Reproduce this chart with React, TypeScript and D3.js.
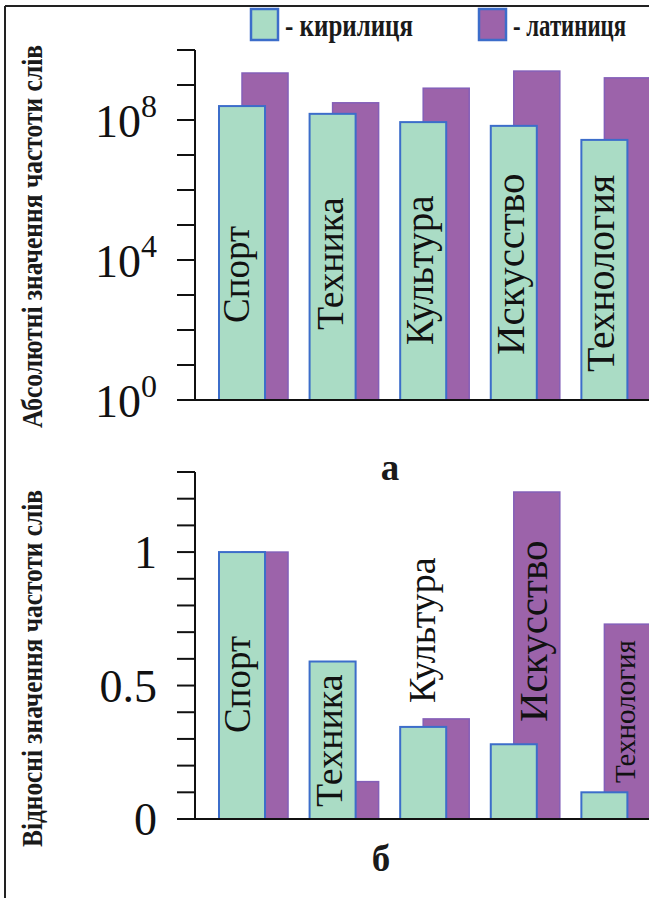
import React, { useLayoutEffect, useRef, useState } from "react";
import * as d3 from "d3";

const categories = ["Спорт", "Техника", "Культура", "Искусство", "Технология"];
// absolute word frequencies (panel a, log scale)
const absCyr = [2.5e8, 1.5e8, 8.7e7, 6.8e7, 2.7e7];
const absLat = [2.2e9, 3.1e8, 8.1e8, 2.5e9, 1.6e9];
// relative word frequencies (panel б)
const relCyr = [1.0, 0.59, 0.345, 0.28, 0.1];
const relLat = [1.0, 0.14, 0.375, 1.225, 0.73];

const absTickExps = [0, 1, 2, 3, 4, 5, 6, 7, 8, 9, 10];
const absLabelExps = [0, 4, 8];
const relTicks = [0, 0.1, 0.2, 0.3, 0.4, 0.5, 0.6, 0.7, 0.8, 0.9, 1.0, 1.1, 1.2, 1.3];
const relLabels = [
  { v: 0, t: "0" },
  { v: 0.5, t: "0.5" },
  { v: 1, t: "1" },
];
const legendItems = ["- кирилиця", "- латиниця"];
const titleA = "Абсолютні значення частоти слів";
const titleB = "Відносні значення частоти слів";

// label placement: series the label sits in, offset of baseline from bar centre, gap above axis, font size
const labelsA = [
  { s: "c", dx: 7, gap: 77, fs: 37 },
  { s: "c", dx: 10, gap: 70, fs: 38 },
  { s: "c", dx: 10, gap: 55, fs: 39 },
  { s: "c", dx: 10, gap: 45, fs: 41 },
  { s: "c", dx: 10, gap: 28, fs: 40 },
];
const labelsB = [
  { s: "c", dx: 8, gap: 86, fs: 37 },
  { s: "c", dx: 9, gap: 12, fs: 38 },
  { s: "m", dx: 0, gap: 116, fs: 38 },
  { s: "l", dx: 10, gap: 97, fs: 41 },
  { s: "l", dx: 8, gap: 36, fs: 29 },
];

const W = 649;
const H = 898;
const CYR_FILL = "#aadcc5";
const CYR_STROKE = "#3c6dca";
const LAT_FILL = "#9c63aa";
const LAT_STROKE = "#845fb8";
const SERIF = "Liberation Serif, DejaVu Serif, serif";

const axisX = 195;
const x = d3.scaleBand<string>().domain(categories).range([219, 650.4]).paddingInner(0.238).paddingOuter(0);
const bw = x.bandwidth();
const barW = (bw * 2) / 3;
const latOff = bw / 3;

const yA = d3.scaleLog().domain([1, 1e10]).range([400, 50]);
const yB = d3.scaleLinear().domain([0, 1.3]).range([819, 472]);

// text condensed horizontally (along its reading direction) to a target length
function CondText({
  x,
  y,
  rotate,
  width,
  fontSize,
  children,
}: {
  x: number;
  y: number;
  rotate: number;
  width: number;
  fontSize: number;
  children: string;
}) {
  const ref = useRef<SVGTextElement>(null);
  const [sx, setSx] = useState(0.82);
  useLayoutEffect(() => {
    if (ref.current) {
      const len = ref.current.getComputedTextLength();
      if (len > 0) setSx(width / len);
    }
  }, [width, children]);
  return (
    <text
      ref={ref}
      transform={`translate(${x},${y}) rotate(${rotate}) scale(${sx},1)`}
      style={{ fontFamily: SERIF }}
      fontWeight="bold"
      fontSize={fontSize}
      fill="#1a1a1a"
    >
      {children}
    </text>
  );
}

function Panel({
  y,
  cyr,
  lat,
  ticks,
  labels,
  base,
}: {
  y: (v: number) => number;
  cyr: number[];
  lat: number[];
  ticks: number[];
  labels: typeof labelsA;
  base: number;
}) {
  return (
    <g>
      {categories.map((c, i) => (
        <rect
          key={"l" + c}
          x={(x(c) as number) + latOff}
          y={y(lat[i])}
          width={barW}
          height={base - y(lat[i])}
          fill={LAT_FILL}
          stroke={LAT_STROKE}
          strokeWidth={1.5}
        />
      ))}
      {categories.map((c, i) => (
        <rect
          key={"c" + c}
          x={x(c) as number}
          y={y(cyr[i])}
          width={barW}
          height={base - y(cyr[i])}
          fill={CYR_FILL}
          stroke={CYR_STROKE}
          strokeWidth={2}
        />
      ))}
      <line x1={axisX} x2={axisX} y1={y(ticks[ticks.length - 1])} y2={base} stroke="#111" strokeWidth={2} />
      {ticks.map((t) => (
        <line key={t} x1={axisX - 18} x2={axisX} y1={y(t)} y2={y(t)} stroke="#111" strokeWidth={2} />
      ))}
      <line x1={axisX - 18} x2={W} y1={base} y2={base} stroke="#111" strokeWidth={2} />
      {categories.map((c, i) => {
        const L = labels[i];
        const x0 = x(c) as number;
        let cx: number;
        if (L.s === "c") cx = x0 + barW / 2;
        else if (L.s === "l") cx = x0 + latOff + barW / 2;
        else cx = x0 + bw / 2;
        const tx = cx + L.dx;
        const ty = base - L.gap;
        return (
          <text
            key={"t" + c}
            transform={`translate(${tx},${ty}) rotate(-90)`}
            style={{ fontFamily: SERIF }}
            fontSize={L.fs}
            fill="#111"
          >
            {c}
          </text>
        );
      })}
    </g>
  );
}

export default function App() {
  return (
    <svg
      width={W}
      height={H}
      viewBox={`0 0 ${W} ${H}`}
      style={{ position: "absolute", left: 0, top: 0, display: "block", background: "#fff", fontFamily: SERIF }}
    >
      <rect x={0} y={0} width={W} height={H} fill="#fff" />
      {/* frame */}
      <line x1={5} x2={W} y1={6} y2={6} stroke="#222" strokeWidth={2} />
      <line x1={5} x2={5} y1={6} y2={H} stroke="#222" strokeWidth={2} />

      {/* legend */}
      {legendItems.map((t, i) => {
        const lx = i === 0 ? 251 : 479;
        return (
          <g key={t}>
            <rect
              x={lx}
              y={9}
              width={27}
              height={31}
              fill={i === 0 ? CYR_FILL : LAT_FILL}
              stroke={CYR_STROKE}
              strokeWidth={2.5}
            />
            <CondText x={lx + 34} y={36} rotate={0} width={i === 0 ? 128 : 113} fontSize={31}>
              {t}
            </CondText>
          </g>
        );
      })}

      {/* axis titles */}
      <CondText x={42} y={428} rotate={-90} width={383} fontSize={29}>
        {titleA}
      </CondText>
      <CondText x={42} y={847} rotate={-90} width={357} fontSize={29}>
        {titleB}
      </CondText>

      <Panel
        y={yA}
        cyr={absCyr}
        lat={absLat}
        ticks={absTickExps.map((e) => Math.pow(10, e))}
        labels={labelsA}
        base={yA(1)}
      />
      {absLabelExps.map((e) => (
        <text
          key={e}
          x={157}
          y={yA(Math.pow(10, e)) + 17}
          textAnchor="end"
          style={{ fontFamily: SERIF }}
          fontSize={46}
          fill="#111"
        >
          10
          <tspan fontSize={32} dy={-20}>
            {e}
          </tspan>
        </text>
      ))}

      <Panel y={yB} cyr={relCyr} lat={relLat} ticks={relTicks} labels={labelsB} base={yB(0)} />
      {relLabels.map((l) => (
        <text
          key={l.t}
          x={157}
          y={yB(l.v) + 16}
          textAnchor="end"
          style={{ fontFamily: SERIF }}
          fontSize={46}
          fill="#111"
        >
          {l.t}
        </text>
      ))}

      <text x={390} y={480} textAnchor="middle" style={{ fontFamily: SERIF }} fontWeight="bold" fontSize={37} fill="#1a1a1a">
        а
      </text>
      <text x={381} y={871} textAnchor="middle" style={{ fontFamily: SERIF }} fontWeight="bold" fontSize={37} fill="#1a1a1a">
        б
      </text>
    </svg>
  );
}
